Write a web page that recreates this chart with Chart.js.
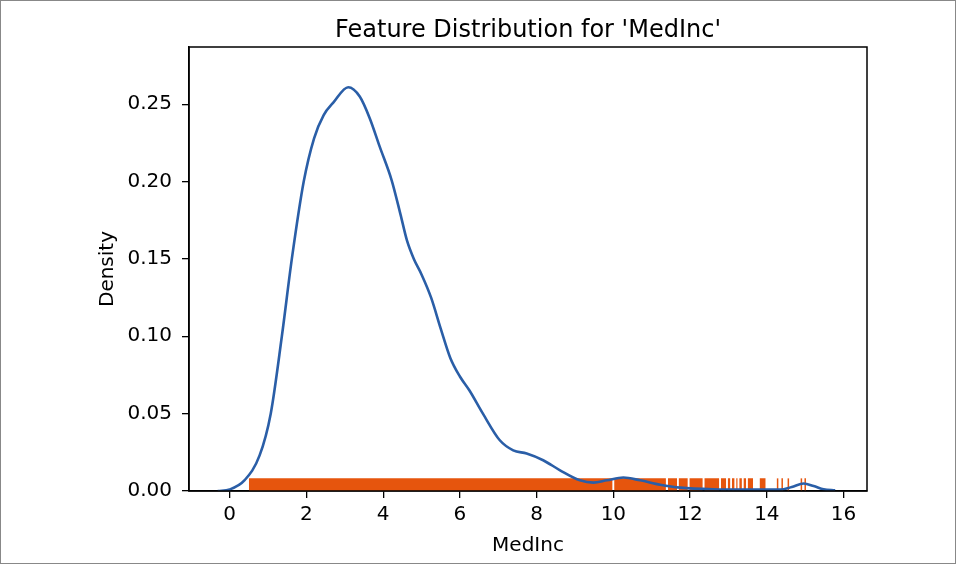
<!DOCTYPE html>
<html>
<head>
<meta charset="utf-8">
<script src="https://cdn.jsdelivr.net/npm/chart.js@4"></script>
<style>
  body { margin: 0; background: #fff; }
  #wrap { position: relative; width: 956px; height: 564px; }
  #frame { position: absolute; left: 0; top: 0; width: 956px; height: 564px; box-sizing: border-box; border: 1px solid #888; pointer-events: none; }
</style>
</head>
<body>
<div id="wrap">
  <canvas id="kdeChart" width="956" height="564"></canvas>
  <div id="frame"></div>
</div>
<script>
// KDE curve of MedInc
const kdeX = [-0.31, 0, 0.39, 0.78, 1.07, 1.36, 1.62, 1.93, 2.20, 2.45, 2.70, 3.09, 3.39, 3.65, 3.91, 4.22, 4.45, 4.62, 4.80, 5.00, 5.25, 5.50, 5.75, 6.00, 6.25, 6.60, 7.04, 7.39, 7.74, 8.17, 8.61, 9.13, 9.48, 9.83, 10.26, 10.70, 11.22, 11.74, 12.6, 13.48, 14.35, 14.65, 14.96, 15.22, 15.48, 15.78];
const kdeY = [0, 0.001, 0.007, 0.023, 0.050, 0.100, 0.150, 0.200, 0.228, 0.243, 0.251, 0.261, 0.255, 0.241, 0.2226, 0.201, 0.179, 0.162, 0.150, 0.140, 0.125, 0.105, 0.086, 0.074, 0.065, 0.050, 0.0328, 0.0263, 0.0242, 0.0199, 0.0134, 0.0069, 0.0054, 0.0069, 0.0087, 0.0069, 0.0041, 0.0022, 0.0011, 0.0009, 0.0009, 0.0026, 0.0048, 0.0032, 0.0011, 0.0004];

// rug: dense stretches drawn as solid spans, sparse values as single ticks
const rugSpans = [[0.50, 9.98], [10.02, 11.37], [11.42, 11.66], [11.70, 11.94], [11.98, 12.33], [12.37, 12.76], [12.80, 12.94], [12.98, 13.05], [13.09, 13.16], [13.20, 13.24], [13.28, 13.35], [13.39, 13.46], [13.50, 13.64], [13.81, 13.97]];
const rugTicks = [14.28, 14.40, 14.56, 14.90, 15.0];
const rugHeight = 0.0082;

const xTicks = [0, 2, 4, 6, 8, 10, 12, 14, 16];
const yTicks = [0, 0.05, 0.10, 0.15, 0.20, 0.25];

const blue = '#2a5ea7';
const orange = '#e6550d';
const font = 'DejaVu Sans';

const spanSets = rugSpans.map(s => ({
  type: 'line',
  data: [{x: s[0], y: rugHeight}, {x: s[1], y: rugHeight}],
  borderColor: 'rgba(0,0,0,0)',
  backgroundColor: orange,
  fill: 'origin',
  pointRadius: 0,
  order: 2
}));

const frame = {
  id: 'frame',
  afterDatasetsDraw(chart) {
    const a = chart.chartArea, ctx = chart.ctx;
    ctx.save();
    ctx.strokeStyle = '#000';
    ctx.lineWidth = 1.5;
    ctx.strokeRect(a.left, a.top, a.right - a.left, a.bottom - a.top);
    ctx.restore();
  }
};

new Chart(document.getElementById('kdeChart'), {
  type: 'line',
  data: {
    datasets: [
      {
        data: kdeX.map((x, i) => ({x: x, y: kdeY[i]})),
        borderColor: blue,
        borderWidth: 2.6,
        pointRadius: 0,
        fill: false,
        cubicInterpolationMode: 'monotone',
        order: 0
      },
      {
        type: 'scatter',
        data: rugTicks.map(x => ({x: x, y: rugHeight / 2})),
        pointStyle: 'line',
        rotation: 90,
        radius: 6.3,
        borderWidth: 1.5,
        borderColor: orange,
        order: 1
      },
      ...spanSets
    ]
  },
  options: {
    responsive: false,
    animation: false,
    layout: { padding: { left: 0, right: 89, top: 0, bottom: 0 } },
    plugins: {
      legend: { display: false },
      tooltip: { enabled: false },
      title: {
        display: true,
        text: "Feature Distribution for 'MedInc'",
        color: '#000',
        fullSize: false,
        font: { family: font, size: 24, weight: 'normal', lineHeight: 1.2 },
        padding: { top: 16, bottom: 2.2 }
      }
    },
    scales: {
      x: {
        type: 'linear',
        min: -1.06,
        max: 16.61,
        afterBuildTicks: axis => { axis.ticks = xTicks.map(v => ({value: v})); },
        afterFit: axis => { axis.height = 73; },
        grid: { display: true, drawOnChartArea: false, drawTicks: true, tickLength: 7, color: '#000', lineWidth: 1.3 },
        border: { display: true, color: '#000', width: 1.5 },
        ticks: { color: '#000', font: { family: font, size: 20 }, padding: 5, maxRotation: 0 },
        title: { display: true, text: 'MedInc', color: '#000', font: { family: font, size: 20, lineHeight: 1.2 }, padding: { top: 0, bottom: 6 } }
      },
      y: {
        min: 0,
        max: 0.287,
        afterBuildTicks: axis => { axis.ticks = yTicks.map(v => ({value: v})); },
        afterFit: axis => { axis.width = 189; },
        grid: { display: true, drawOnChartArea: false, drawTicks: true, tickLength: 7, color: '#000', lineWidth: 1.3 },
        border: { display: true, color: '#000', width: 1.5 },
        ticks: { color: '#000', font: { family: font, size: 20 }, padding: 10, callback: v => v.toFixed(2) },
        title: { display: true, text: 'Density', color: '#000', font: { family: font, size: 20, lineHeight: 1.2 }, padding: { top: 96, bottom: 0 } }
      }
    }
  },
  plugins: [frame]
});
</script>
</body>
</html>
